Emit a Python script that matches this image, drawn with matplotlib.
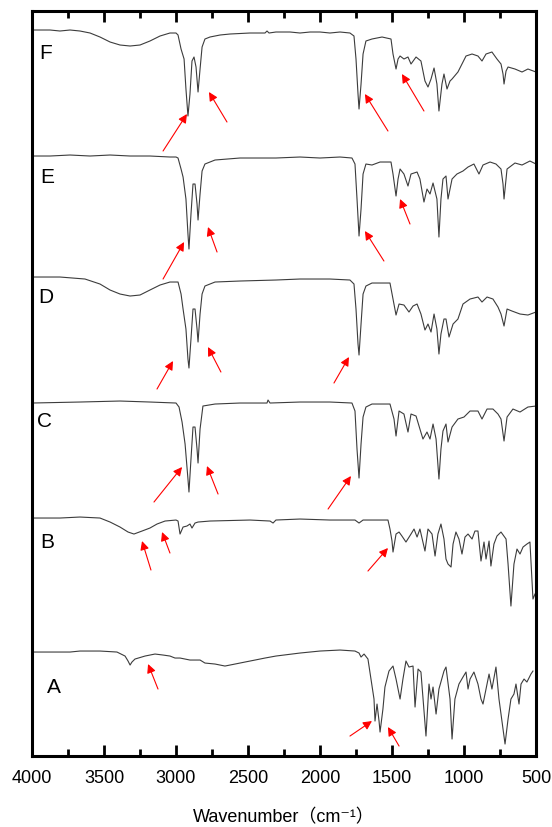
"""Stacked FTIR spectra A-F with marked absorption bands."""

import matplotlib
matplotlib.use("Agg")
import matplotlib.pyplot as plt

# Wavenumber (cm-1) and stacked transmittance (arbitrary units) for each sample
wn_F = [4000, 3944, 3875, 3806, 3736, 3667, 3632, 3597, 3528, 3458, 3389, 3319, 3250, 3181,
        3111, 3042, 3000, 2986, 2965, 2944, 2931, 2917, 2903, 2889, 2875, 2861, 2847, 2833,
        2819, 2799, 2764, 2694, 2625, 2486, 2382, 2368, 2354, 2306, 2208, 2139, 2069, 2000,
        1931, 1861, 1792, 1764, 1750, 1736, 1729, 1715, 1701, 1681, 1639, 1569, 1507, 1493,
        1472, 1458, 1444, 1417, 1389, 1368, 1333, 1299, 1271, 1250, 1229, 1208, 1188, 1174,
        1153, 1139, 1118, 1097, 1083, 1042, 1014, 986, 944, 903, 875, 847, 806, 771, 743,
        729, 722, 708, 694, 646, 597, 556, 500]
t_F = [726, 726, 726, 725, 726, 725, 724, 723, 719, 714, 711, 710, 711, 715,
       720, 723, 723, 721, 707, 697, 667, 640, 662, 695, 699, 689, 664, 687,
       709, 717, 719, 721, 722, 723, 723, 725, 723, 724, 724, 723, 724, 724,
       723, 724, 723, 720, 697, 662, 647, 672, 702, 715, 717, 719, 717, 702,
       687, 697, 700, 697, 699, 692, 699, 695, 675, 669, 677, 688, 672, 645,
       672, 682, 667, 675, 677, 684, 692, 700, 702, 700, 695, 702, 704, 697, 692,
       682, 672, 685, 689, 687, 684, 687, 684]

wn_E = [4000, 3875, 3736, 3597, 3458, 3319, 3181, 3042, 3000, 2986, 2965, 2951, 2931, 2917,
        2910, 2896, 2882, 2868, 2854, 2847, 2833, 2819, 2799, 2729, 2556, 2306, 2139, 2000,
        1861, 1778, 1757, 1743, 1729, 1715, 1701, 1681, 1639, 1583, 1507, 1493, 1472, 1458,
        1444, 1417, 1389, 1368, 1326, 1306, 1278, 1257, 1236, 1215, 1188, 1174, 1160, 1146,
        1125, 1111, 1083, 1049, 1007, 972, 931, 896, 868, 819, 778, 743, 729, 722, 708, 701,
        646, 597, 542, 500]
t_E = [600, 600, 601, 600, 601, 600, 600, 599, 599, 598, 587, 579, 557, 522,
       507, 542, 572, 572, 552, 536, 562, 585, 592, 596, 598, 598, 599, 598,
       599, 598, 592, 557, 520, 547, 582, 592, 591, 594, 594, 582, 560, 577,
       587, 582, 570, 582, 584, 577, 554, 567, 562, 573, 557, 519, 557, 577,
       580, 557, 577, 582, 585, 589, 592, 582, 591, 594, 592, 587, 572, 557, 577, 587,
       593, 591, 595, 592]

wn_D = [4000, 3806, 3632, 3528, 3458, 3389, 3319, 3250, 3181, 3111, 3042, 2986, 2965, 2951,
        2931, 2917, 2910, 2896, 2882, 2868, 2854, 2847, 2833, 2819, 2799, 2729, 2556, 2306,
        2139, 1931, 1792, 1764, 1750, 1736, 1729, 1715, 1701, 1681, 1639, 1514, 1493, 1472,
        1451, 1417, 1382, 1354, 1326, 1299, 1271, 1250, 1229, 1208, 1188, 1174, 1160, 1139,
        1125, 1104, 1076, 1042, 1007, 958, 903, 875, 840, 799, 764, 743, 722, 701, 667, 611,
        556, 500]
t_D = [479, 479, 477, 472, 466, 462, 460, 461, 466, 471, 474, 474, 462, 447,
       427, 397, 388, 417, 447, 447, 427, 414, 442, 462, 470, 474, 475, 476,
       477, 477, 476, 472, 447, 412, 401, 432, 462, 470, 473, 473, 457, 441,
       452, 451, 444, 450, 452, 442, 426, 432, 424, 442, 427, 402, 422, 437,
       437, 419, 432, 437, 452, 457, 459, 454, 459, 457, 449, 442, 430, 447, 445, 442,
       441, 444]

wn_C = [4000, 3667, 3389, 3181, 3000, 2979, 2958, 2937, 2917, 2910, 2896, 2882, 2868, 2854,
        2847, 2833, 2813, 2729, 2556, 2368, 2361, 2347, 2139, 1931, 1778, 1757, 1743, 1729,
        1715, 1701, 1681, 1639, 1514, 1486, 1472, 1451, 1417, 1389, 1368, 1333, 1306, 1285,
        1257, 1236, 1215, 1194, 1174, 1160, 1146, 1125, 1111, 1083, 1042, 1000, 958, 903,
        875, 840, 799, 764, 743, 722, 701, 660, 611, 556, 500]
t_C = [353, 354, 355, 354, 353, 349, 334, 312, 277, 264, 297, 329, 329, 307,
       293, 327, 350, 352, 353, 353, 356, 353, 354, 354, 353, 345, 307, 278,
       312, 339, 349, 352, 352, 337, 320, 345, 342, 324, 342, 340, 327, 317,
       324, 317, 332, 317, 277, 307, 325, 332, 314, 329, 337, 339, 345, 345,
       337, 347, 347, 342, 337, 315, 339, 347, 344, 349, 350]

wn_B = [4000, 3806, 3667, 3528, 3458, 3389, 3333, 3292, 3236, 3181, 3132, 3076, 3000, 2986,
        2972, 2951, 2924, 2903, 2889, 2868, 2847, 2764, 2486, 2347, 2326, 2306, 2139, 1931,
        1757, 1729, 1701, 1528, 1514, 1500, 1493, 1472, 1451, 1431, 1403, 1368, 1347, 1326,
        1306, 1271, 1250, 1222, 1201, 1181, 1160, 1139, 1125, 1111, 1090, 1076, 1056, 1035,
        1014, 993, 972, 944, 924, 903, 882, 861, 847, 826, 813, 792, 771, 743, 708, 694,
        674, 653, 632, 611, 590, 563, 542, 521, 507]
t_B = [238, 238, 239, 238, 234, 229, 224, 222, 225, 228, 232, 235, 236, 235,
       222, 229, 230, 232, 228, 233, 234, 235, 236, 235, 233, 236, 237, 236,
       236, 233, 236, 236, 227, 215, 204, 222, 224, 220, 214, 222, 227, 219,
       227, 205, 227, 222, 200, 222, 232, 217, 197, 192, 189, 212, 224, 217,
       202, 219, 222, 217, 225, 225, 195, 214, 197, 215, 190, 212, 220, 224, 217, 192,
       150, 192, 207, 202, 209, 212, 214, 157, 162]

wn_A = [4000, 3736, 3667, 3528, 3410, 3354, 3333, 3319, 3306, 3285, 3215, 3146, 3090, 3042,
        3007, 2972, 2903, 2833, 2799, 2729, 2660, 2590, 2521, 2451, 2382, 2306, 2139, 2000,
        1861, 1757, 1729, 1715, 1694, 1667, 1646, 1625, 1618, 1604, 1590, 1583, 1563, 1549,
        1521, 1493, 1472, 1444, 1424, 1403, 1382, 1354, 1340, 1319, 1299, 1264, 1243, 1229,
        1215, 1194, 1174, 1139, 1125, 1097, 1083, 1063, 1035, 1007, 986, 972, 958, 931,
        903, 882, 868, 847, 826, 806, 778, 757, 729, 715, 694, 674, 653, 639, 618, 604,
        583, 563, 535, 521]
t_A = [104, 104, 105, 105, 104, 100, 95, 91, 94, 97, 100, 102, 101, 100,
       98, 98, 96, 96, 93, 92, 90, 92, 94, 96, 98, 100, 103, 105,
       106, 105, 103, 99, 102, 97, 77, 57, 35, 52, 35, 24, 47, 69,
       85, 90, 77, 57, 77, 95, 89, 90, 49, 87, 84, 20, 72, 57,
       69, 42, 67, 85, 89, 57, 17, 57, 72, 79, 84, 67, 77, 84,
       72, 57, 52, 67, 82, 67, 89, 57, 27, 12, 37, 57, 62, 72, 52, 72,
       77, 74, 82, 85]

spectra = [(wn_A, t_A), (wn_B, t_B), (wn_C, t_C), (wn_D, t_D), (wn_E, t_E), (wn_F, t_F)]

# Sample labels and their positions
labels = ["A", "B", "C", "D", "E", "F"]
label_pos = [(3847, 70), (3896, 215), (3910, 336), (3903, 460), (3896, 580), (3903, 704)]

# Arrows marking bands: (tail wn, tail T, head wn, head T)
arrows = [
    (3090, 605, 2924, 642), (2646, 634, 2771, 664), (1528, 625, 1688, 662), (1278, 645, 1431, 682),
    (3090, 477, 2944, 514), (2715, 504, 2778, 529), (1556, 495, 1688, 525), (1375, 532, 1444, 557),
    (3132, 367, 3021, 395), (2688, 384, 2778, 409), (1903, 373, 1799, 399),
    (3153, 254, 2958, 289), (2708, 262, 2785, 290), (1944, 247, 1785, 280),
    (3174, 186, 3236, 215), (3042, 203, 3097, 224), (1667, 185, 1528, 208),
    (3125, 67, 3194, 92), (1792, 20, 1639, 35), (1451, 10, 1528, 29),
]

plt.rcParams["font.family"] = ["Liberation Sans", "DejaVu Sans", "Noto Sans CJK SC"]

fig = plt.figure(figsize=(5.52, 8.28), dpi=100)
ax = fig.add_axes([0.058, 0.0857, 0.913, 0.8998])

for wn, t in spectra:
    ax.plot(wn, t, color="#3c3c3c", linewidth=0.8)

for lab, (x, y) in zip(labels, label_pos):
    ax.text(x, y, lab, fontsize=15, ha="center", va="center")

for x0, y0, x1, y1 in arrows:
    ax.annotate("", xy=(x1, y1), xytext=(x0, y0),
                arrowprops=dict(arrowstyle="-|>", color="red", lw=0.8,
                                mutation_scale=13, shrinkA=0, shrinkB=0))

ax.set_xlim(4000, 500)
ax.set_ylim(0, 745)
ax.set_xticks([4000, 3500, 3000, 2500, 2000, 1500, 1000, 500])
ax.set_xticks(range(3750, 500, -500), minor=True)
ax.set_yticks([])
ax.tick_params(axis="x", which="both", direction="in", top=True, width=2,
               labelsize=13, pad=9)
ax.tick_params(axis="x", which="major", length=8)
ax.tick_params(axis="x", which="minor", length=5)
for sp in ax.spines.values():
    sp.set_linewidth(2.2)

ax.set_xlabel("Wavenumber（cm⁻¹）", fontsize=13, labelpad=16)

plt.savefig("out.png", dpi=100)
